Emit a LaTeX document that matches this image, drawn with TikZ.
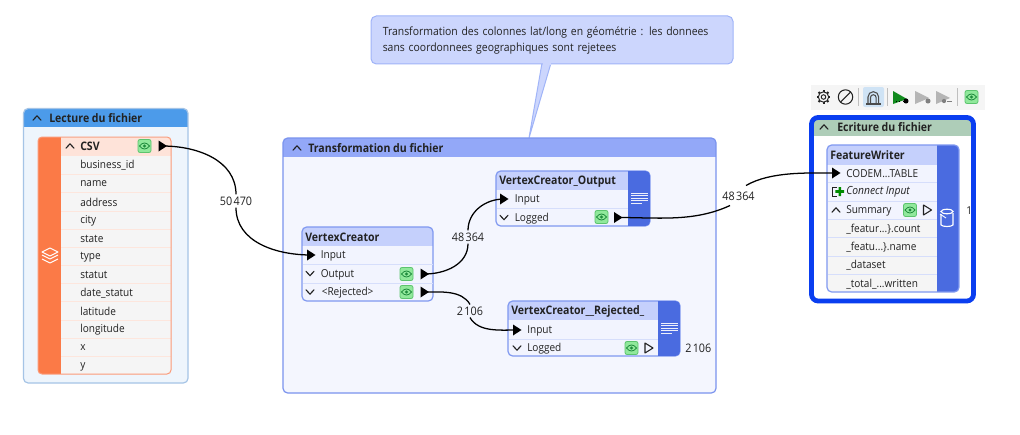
\documentclass[tikz,border=0pt]{standalone}
\usepackage{fontspec}
\setmainfont[FakeStretch=0.92]{Open Sans}
\newfontfamily\titlefont[FakeStretch=0.9,UprightFont=* Bold]{Open Sans}
\usetikzlibrary{arrows.meta}
\definecolor{ink}{HTML}{222222}
\definecolor{lecHead}{HTML}{4C9BEA}
\definecolor{lecBody}{HTML}{EEF5FC}
\definecolor{lecLine}{HTML}{A5C4E6}
\definecolor{orangeS}{HTML}{FB7A47}
\definecolor{orangeH}{HTML}{FEE3D9}
\definecolor{orangeL}{HTML}{FDE6DD}
\definecolor{orangeB}{HTML}{FB9A78}
\definecolor{rowGray}{HTML}{F5F5F5}
\definecolor{traHead}{HTML}{93A8F8}
\definecolor{traBody}{HTML}{F4F6FE}
\definecolor{traLine}{HTML}{7A93EE}
\definecolor{nodeHead}{HTML}{C5D0FC}
\definecolor{nodeBody}{HTML}{F2F4FE}
\definecolor{nodeLine}{HTML}{7F98F0}
\definecolor{nodeSep}{HTML}{D6DEFB}
\definecolor{strip}{HTML}{4A6BE0}
\definecolor{wrHead}{HTML}{AECDB8}
\definecolor{wrLine}{HTML}{0A3EF0}
\definecolor{callFill}{HTML}{CCD6FD}
\definecolor{callLine}{HTML}{A0B4F8}
\definecolor{eyeFill}{HTML}{90E89B}
\definecolor{eyeLine}{HTML}{5CC46E}
\definecolor{eyeInk}{HTML}{1E8A3C}
\definecolor{toolBg}{HTML}{F5F5F5}
\definecolor{toolHi}{HTML}{CFE3F5}
\definecolor{toolGray}{HTML}{B5B5B5}
\definecolor{toolGreen}{HTML}{118A1E}
\tikzset{
  rowtext/.style={anchor=west,inner sep=0pt,text=ink,font=\fontsize{8.2}{10}\selectfont},
  titletext/.style={anchor=west,inner sep=0pt,text=ink,font=\titlefont\fontsize{8.8}{10}\selectfont},
  countlabel/.style={inner sep=1.5pt,text=ink,font=\fontsize{8.8}{10}\selectfont},
  wire/.style={black,line width=0.95pt},
  caret/.style={ink,line width=0.85pt,line cap=round,line join=round},
}
\newcommand{\panel}[9]{% x1 y1 x2 y2 headY body head line width
  \fill[#6,rounded corners=3.5pt] (#1,#2) rectangle (#3,#4);
  \begin{scope}
    \clip[rounded corners=3.5pt] (#1,#2) rectangle (#3,#4);
    \fill[#7] (#1,#2) rectangle (#3,#5);
  \end{scope}
  \draw[#8,line width=#9,rounded corners=3.5pt] (#1,#2) rectangle (#3,#4);
}
\newcommand{\caretup}[2]{\draw[caret] (#1-4,#2+2.2) -- (#1,#2-2.2) -- (#1+4,#2+2.2);}
\newcommand{\caretdown}[2]{\draw[caret] (#1-4,#2-2.2) -- (#1,#2+2.2) -- (#1+4,#2-2.2);}
\newcommand{\eyeicon}[2]{%
  \fill[eyeFill,draw=eyeLine,line width=0.6pt,rounded corners=1.5pt] (#1-6.5,#2-6.5) rectangle (#1+6.5,#2+6.5);
  \draw[eyeInk,line width=0.6pt] (#1-5,#2) .. controls (#1-2,#2-4) and (#1+2,#2-4) .. (#1+5,#2) .. controls (#1+2,#2+4) and (#1-2,#2+4) .. (#1-5,#2) -- cycle;
  \fill[eyeInk] (#1,#2) circle[radius=1.2pt];
}
\newcommand{\solidport}[3]{% name x(left) y
  \fill[black] (#2,#3-5.5) -- (#2+8.5,#3) -- (#2,#3+5.5) -- cycle;
  \coordinate (#1) at (#2+4,#3);
}
\newcommand{\openport}[2]{%
  \draw[ink,line width=0.8pt,line join=round] (#1,#2-5) -- (#1+8,#2) -- (#1,#2+5) -- cycle;
}
\newcommand{\docicon}[2]{%
  \foreach \q/\w in {0/17,2.4/17,4.8/17,7.2/17,9.6/11}{
    \draw[white,line width=0.75pt,opacity=.9] (#1,#2+\q) -- (#1+\w,#2+\q);}
}
\newcommand{\sepline}[2]{\draw[nodeSep,line width=0.75pt] (#1) -- (#2);}
\begin{document}
\begin{tikzpicture}[x=0.75pt,y=-0.75pt]
\useasboundingbox (0,0) rectangle (1020,435);
\fill[white] (0,0) rectangle (1020,435);

% ---------- callout
\path[fill=callFill,draw=callLine,line width=0.75pt] (542,63) -- (529,138) -- (551,63);
\fill[callFill,draw=callLine,line width=0.75pt,rounded corners=4pt] (371,16) rectangle (733,64);
\fill[callFill] (542.6,62) rectangle (550.6,65);
\node[rowtext,align=left,text width=345*0.75pt,font=\fontsize{8.5}{11.4}\selectfont] (note) at (382.5,40.5) {Transformation des colonnes lat/long en géométrie : les donnees\\sans coordonnees geographiques sont rejetees};

% ---------- Lecture du fichier
\panel{23.5}{108.5}{188}{383}{127}{lecBody}{lecHead}{lecLine}{0.9pt}
\caretup{37}{118}
\node[titletext] (lecTitle) at (49,118.5) {Lecture du fichier};
\fill[rowGray,rounded corners=3pt] (38,137) rectangle (171,374);
\fill[orangeH] (61,137.5) rectangle (171,156);
\foreach \yy in {174,192,211,229,247,265,283,301,320,338,356}{\draw[orangeL,line width=0.75pt] (61,\yy) -- (171,\yy);}
\begin{scope}
  \clip[rounded corners=3pt] (38,137) rectangle (171,374);
  \fill[orangeS] (38,137) rectangle (60.5,374);
\end{scope}
\draw[orangeB,line width=0.75pt,rounded corners=3pt] (38,137) rectangle (171,374);
\foreach \yy in {255,259}{\draw[white,line width=0.7pt,line join=round] (42,\yy) -- (50,\yy+4) -- (58,\yy);}
\draw[white,line width=0.7pt,line join=round,fill=orangeS] (42,252) -- (50,248) -- (58,252) -- (50,256) -- cycle;
\caretup{70}{146}
\node[titletext] (csv) at (80,146.5) {CSV};
\eyeicon{144.5}{146}
\solidport{csvOut}{158.5}{146}
\node[rowtext] (f1) at (80,165) {business\_id};
\node[rowtext] (f2) at (80,184) {name};
\node[rowtext] (f3) at (80,202) {address};
\node[rowtext] (f4) at (80,220.5) {city};
\node[rowtext] (f5) at (80,238.5) {state};
\node[rowtext] (f6) at (80,257) {type};
\node[rowtext] (f7) at (80,275) {statut};
\node[rowtext] (f8) at (80,293) {date\_statut};
\node[rowtext] (f9) at (80,311) {latitude};
\node[rowtext] (f10) at (80,330) {longitude};
\node[rowtext] (f11) at (80,347.5) {x};
\node[rowtext] (f12) at (80,366.5) {y};

% ---------- Transformation du fichier
\panel{283}{138}{716}{393}{157}{traBody}{traHead}{traLine}{0.9pt}
\caretup{297}{148}
\node[titletext] (traTitle) at (308,148.5) {Transformation du fichier};

% VertexCreator
\panel{302}{227}{433}{301}{246}{nodeBody}{nodeHead}{nodeLine}{0.9pt}
\sepline{302.5,264.5}{432.5,264.5}
\sepline{302.5,283}{432.5,283}
\node[titletext] (vc) at (305,237.5) {VertexCreator};
\solidport{vcIn}{307}{255}
\node[rowtext] (vcInT) at (320.5,256) {Input};
\caretdown{310}{273.5}
\node[rowtext] (vcOutT) at (320.5,275) {Output};
\eyeicon{406.5}{274}
\solidport{vcOut}{420.5}{274}
\caretdown{310}{292}
\node[rowtext] (vcRejT) at (321.5,293) {<Rejected>};
\eyeicon{406.5}{292}
\solidport{vcRej}{420.5}{292}

% VertexCreator_Output
\panel{496}{171}{650}{226}{190}{nodeBody}{nodeHead}{nodeLine}{0.9pt}
\begin{scope}
  \clip[rounded corners=3.5pt] (496,171) rectangle (650,226);
  \fill[strip] (628,171) rectangle (650,226);
\end{scope}
\sepline{496.5,208}{628,208}
\docicon{631}{193.5}
\node[titletext] (vo) at (499,181.5) {VertexCreator\_Output};
\solidport{voIn}{500}{199}
\node[rowtext] (voInT) at (514.5,200) {Input};
\caretdown{504}{217.5}
\node[rowtext] (voLogT) at (514.5,218.5) {Logged};
\eyeicon{601.5}{217}
\solidport{voLog}{614}{217.5}

% VertexCreator__Rejected_
\panel{508}{301}{680}{356}{320}{nodeBody}{nodeHead}{nodeLine}{0.9pt}
\begin{scope}
  \clip[rounded corners=3.5pt] (508,301) rectangle (680,356);
  \fill[strip] (658,301) rectangle (680,356);
\end{scope}
\sepline{508.5,339}{658,339}
\docicon{661}{323.5}
\node[titletext] (vr) at (511,311.5) {VertexCreator\_\_Rejected\_};
\solidport{vrIn}{513}{330}
\node[rowtext] (vrInT) at (527,331) {Input};
\caretdown{517}{348}
\node[rowtext] (vrLogT) at (527,349) {Logged};
\eyeicon{631.5}{348}
\openport{645}{348}
\node[rowtext,font=\fontsize{8.8}{10}\selectfont] (vrCount) at (685,348.5) {2\kern1pt 106};

% ---------- Ecriture du fichier
\fill[toolBg] (811,85) rectangle (985,110);
\foreach \aa in {0,45,...,315}{\draw[ink,line width=1.5pt] (823.5,97)+(\aa:3.3pt) -- +(\aa:5.2pt);}
\draw[ink,line width=0.7pt,fill=toolBg] (823.5,97) circle[radius=3.9pt];
\draw[ink,line width=0.7pt] (823.5,97) circle[radius=1.7pt];
\draw[ink,line width=0.8pt] (845.5,97) circle[radius=5.4pt];
\draw[ink,line width=0.8pt] (840.5,102) -- (850.5,92);
\draw[black!25,line width=0.6pt] (858,88) -- (858,106);
\fill[toolHi,rounded corners=1.5pt] (863,87) rectangle (884,107);
\draw[black!70,line width=0.8pt] (868,103) -- (868,97) arc[start angle=180,end angle=0,radius=4pt] -- (878.7,103);
\draw[black!70,line width=0.8pt] (870.5,103) -- (870.5,97.5) arc[start angle=180,end angle=0,radius=2.1pt] -- (876.2,103);
\draw[black!70,line width=0.8pt] (866,104) -- (881,104);
\draw[black!25,line width=0.6pt] (887,88) -- (887,106);
\fill[toolGreen] (893,91) -- (907,99) -- (893,104) -- cycle;
\fill[black] (906,101) circle[radius=1.9pt];
\draw[black,dotted,line width=0.6pt] (896,101.5) -- (904,101.5);
\fill[toolGray] (915,91) -- (929,98) -- (915,104) -- cycle;
\fill[black!50] (928,101) circle[radius=1.9pt];
\fill[toolGray] (936,91) -- (950,98) -- (936,104) -- cycle;
\fill[black!50] (944,101) circle[radius=1.6pt];
\draw[black!50,line width=0.5pt] (947,101) -- (952,101);
\draw[black!25,line width=0.6pt] (957,88) -- (957,106);
\begin{scope}[shift={(971.5,97)}]
  \eyeicon{0}{0}
\end{scope}

\fill[white,rounded corners=5pt] (809,115) rectangle (976,304);
\fill[wrHead] (812,118) rectangle (973,136);
\draw[white,line width=1pt,rounded corners=2pt] (815.2,136) -- (815.2,297.5) -- (969.8,297.5) -- (969.8,136);
\draw[wrLine,line width=3.6pt,rounded corners=5pt] (811.5,117.5) rectangle (973.5,301);
\caretup{824}{127}
\node[titletext] (wrTitle) at (837,127.5) {Ecriture du fichier};

\fill[nodeBody,rounded corners=3.5pt] (827,145) rectangle (959,292);
\begin{scope}
  \clip[rounded corners=3.5pt] (827,145) rectangle (959,292);
  \fill[nodeHead] (827,145) rectangle (937,165);
  \fill[rowGray] (827,219) rectangle (937,292);
  \fill[strip] (937,145) rectangle (959,292);
\end{scope}
\draw[nodeLine,line width=0.9pt,rounded corners=3.5pt] (827,145) rectangle (959,292);
\foreach \yy in {182,201,219,237,256,274}{\sepline{827.5,\yy}{937,\yy}}
\draw[white,line width=0.85pt,line join=round] (941,214) -- (941,225) .. controls (943,227) and (951,227) .. (953,225) -- (953,213);
\draw[white,line width=0.85pt] (947,211.5) ellipse[x radius=4.5pt,y radius=1.7pt];
\draw[white,line width=0.7pt] (940,214) -- (946,218);
\node[titletext] (fw) at (830,155.5) {FeatureWriter};
\solidport{fwIn}{832}{173}
\node[rowtext] (fwInT) at (846,174) {CODEM...TABLE};
\draw[ink,line width=0.6pt] (837,187.5) -- (832,187.5) -- (832,196) -- (837,196);
\fill[green!55!black] (838.5,187) rectangle (841,196) (835.3,190.2) rectangle (844.2,192.8);
\node[rowtext,font=\fontsize{8.4}{10}\selectfont\itshape] (fwConn) at (846,192) {Connect Input};
\caretup{836}{210}
\node[rowtext] (fwSum) at (846,211) {Summary};
\eyeicon{910}{210}
\openport{923.5}{210}
\node[rowtext] (s1) at (846,229) {\_featur...\}.count};
\node[rowtext] (s2) at (846,247.5) {\_featu...\}.name};
\node[rowtext] (s3) at (846,265.5) {\_dataset};
\node[rowtext] (s4) at (846,284) {\_total\_...written};
\node[rowtext] (wrCount) at (966,211) {1};

% ---------- connectors
\node[countlabel] (c1) at (236,201) {50\kern1pt 470};
\node[countlabel] (c2) at (468,237) {48\kern1pt 364};
\node[countlabel] (c3) at (470,311) {2\kern1pt 106};
\node[countlabel] (c4) at (738.5,196) {48\kern1pt 364};
\coordinate (c4low) at (730,205.5);
\coordinate (c4up) at (746,185.5);
\draw[wire] (csvOut) to[out=0,in=90,looseness=1] (c1.north);
\draw[wire] (c1.south) to[out=-90,in=180,looseness=1] (vcIn);
\draw[wire] (vcOut) to[out=0,in=-90,looseness=1] (c2.south);
\draw[wire] (c2.north) to[out=90,in=180,looseness=1] (voIn);
\draw[wire] (vcRej) to[out=0,in=120,looseness=.9] (c3.north);
\draw[wire] (c3.south) to[out=-60,in=180,looseness=.9] (vrIn);
\draw[wire] (voLog) to[out=0,in=-155,looseness=.9] (c4low);
\draw[wire] (c4up) to[out=30,in=180,looseness=.8] (fwIn);
\end{tikzpicture}
\end{document}
